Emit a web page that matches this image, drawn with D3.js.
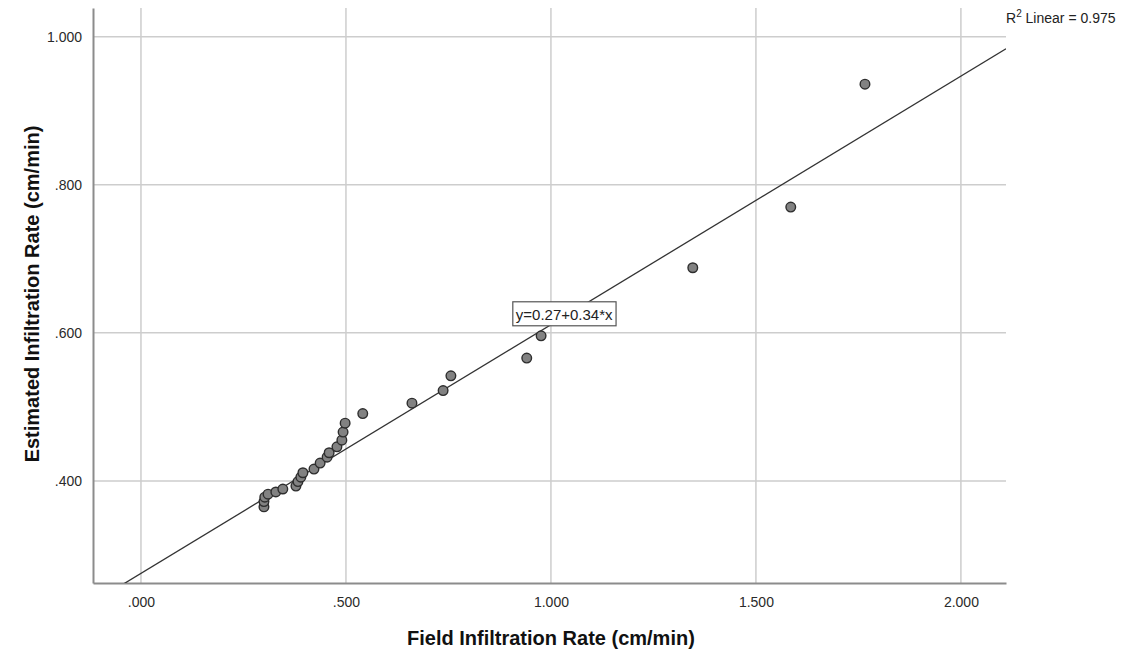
<!DOCTYPE html>
<html>
<head>
<meta charset="utf-8">
<script src="https://cdn.jsdelivr.net/npm/d3@7"></script>
<style>
  body { margin: 0; background: #fff; }
  text { font-family: 'Liberation Sans', Arial, sans-serif; }
</style>
</head>
<body>
<svg id="chart"></svg>
<script>
// field vs estimated infiltration rate (cm/min)
const fieldRate = [0.300, 0.300, 0.302, 0.310, 0.329, 0.346, 0.378, 0.383, 0.390, 0.395,
  0.422, 0.437, 0.454, 0.459, 0.478, 0.490, 0.493, 0.498, 0.541, 0.661,
  0.737, 0.756, 0.941, 0.976, 1.346, 1.585, 1.766];
const estRate = [0.365, 0.372, 0.378, 0.382, 0.385, 0.389, 0.393, 0.399, 0.405, 0.411,
  0.416, 0.424, 0.432, 0.438, 0.446, 0.455, 0.466, 0.478, 0.491, 0.505,
  0.522, 0.542, 0.566, 0.596, 0.688, 0.770, 0.936];
const xTicks = [0, 0.5, 1.0, 1.5, 2.0];
const yTicks = [0.4, 0.6, 0.8, 1.0];
const fitIntercept = 0.275;
const fitSlope = 0.336;
const fitLabel = 'y=0.27+0.34*x';
const r2Value = '0.975';

const width = 1130;
const height = 657;
const margin = { top: 8, right: 124, bottom: 74, left: 93 };
const innerWidth = width - margin.left - margin.right;
const innerHeight = height - margin.top - margin.bottom;

const data = fieldRate.map((d, i) => ({ x: d, y: estRate[i] }));

const xScale = d3.scaleLinear().domain([-0.117, 2.11]).range([0, innerWidth]);
const yScale = d3.scaleLinear().domain([0.262, 1.039]).range([innerHeight, 0]);

const fmt = v => d3.format('.3f')(v).replace(/^0\./, '.');

const svg = d3.select('#chart')
  .attr('width', width)
  .attr('height', height);

const g = svg.append('g')
  .attr('transform', `translate(${margin.left}, ${margin.top})`);

g.append('clipPath').attr('id', 'plot-clip')
  .append('rect')
  .attr('width', innerWidth)
  .attr('height', innerHeight);

// grid
g.append('g')
  .attr('class', 'grid grid--x')
  .selectAll('line')
  .data(xTicks)
  .enter().append('line')
    .attr('x1', d => xScale(d))
    .attr('x2', d => xScale(d))
    .attr('y1', 0)
    .attr('y2', innerHeight)
    .attr('stroke', '#cdcdcd')
    .attr('stroke-width', 1.5);

g.append('g')
  .attr('class', 'grid grid--y')
  .selectAll('line')
  .data(yTicks)
  .enter().append('line')
    .attr('x1', 0)
    .attr('x2', innerWidth)
    .attr('y1', d => yScale(d))
    .attr('y2', d => yScale(d))
    .attr('stroke', '#cdcdcd')
    .attr('stroke-width', 1.5);

// axes
const xAxis = g.append('g')
  .attr('class', 'axis axis--x')
  .attr('transform', `translate(0, ${innerHeight})`)
  .call(d3.axisBottom(xScale).tickValues(xTicks).tickSize(0).tickPadding(14).tickFormat(fmt))
  .attr('font-size', 14)
  .attr('font-family', 'Liberation Sans, Arial, sans-serif');
xAxis.select('.domain').attr('stroke', '#8c8c8c').attr('stroke-width', 2);
xAxis.selectAll('text').attr('fill', '#2a2a2a');

const yAxis = g.append('g')
  .attr('class', 'axis axis--y')
  .call(d3.axisLeft(yScale).tickValues(yTicks).tickSize(0).tickPadding(11).tickFormat(fmt))
  .attr('font-size', 14)
  .attr('font-family', 'Liberation Sans, Arial, sans-serif');
yAxis.select('.domain').attr('stroke', '#8c8c8c').attr('stroke-width', 2);
yAxis.selectAll('text').attr('fill', '#2a2a2a');

// fit line
const xDom = xScale.domain();
g.append('line')
  .attr('clip-path', 'url(#plot-clip)')
  .attr('x1', xScale(xDom[0]))
  .attr('y1', yScale(fitIntercept + fitSlope * xDom[0]))
  .attr('x2', xScale(xDom[1]))
  .attr('y2', yScale(fitIntercept + fitSlope * xDom[1]))
  .attr('stroke', '#333')
  .attr('stroke-width', 1.3);

// points
g.selectAll('.dot')
  .data(data)
  .enter().append('circle')
    .attr('class', 'dot')
    .attr('cx', d => xScale(d.x))
    .attr('cy', d => yScale(d.y))
    .attr('r', 4.8)
    .attr('fill', '#828282')
    .attr('stroke', '#2e2e2e')
    .attr('stroke-width', 1.4);

// equation label
const eq = g.append('g')
  .attr('transform', `translate(${xScale(0.907)}, ${yScale(0.642)})`);
const eqText = eq.append('text')
  .attr('x', 3)
  .attr('y', 18)
  .attr('font-size', 15)
  .attr('fill', '#222')
  .text(fitLabel);
const bb = eqText.node().getBBox();
eq.insert('rect', 'text')
  .attr('x', 0)
  .attr('y', 0)
  .attr('width', bb.width + 6)
  .attr('height', 24)
  .attr('fill', '#fff')
  .attr('stroke', '#555')
  .attr('stroke-width', 1.2);

// R2 label
const r2 = svg.append('text')
  .attr('x', 1006)
  .attr('y', 23)
  .attr('font-size', 14)
  .attr('fill', '#222');
r2.append('tspan').text('R');
r2.append('tspan').attr('dy', -6).attr('font-size', 10).text('2');
r2.append('tspan').attr('dy', 6).text(` Linear = ${r2Value}`);

// axis titles
svg.append('text')
  .attr('x', margin.left + xScale(1.0))
  .attr('y', 645)
  .attr('text-anchor', 'middle')
  .attr('font-size', 20)
  .attr('font-weight', 'bold')
  .attr('fill', '#111')
  .text('Field Infiltration Rate (cm/min)');

svg.append('text')
  .attr('transform', 'translate(39, 294) rotate(-90)')
  .attr('text-anchor', 'middle')
  .attr('font-size', 20)
  .attr('font-weight', 'bold')
  .attr('fill', '#111')
  .text('Estimated Infiltration Rate (cm/min)');
</script>
</body>
</html>
